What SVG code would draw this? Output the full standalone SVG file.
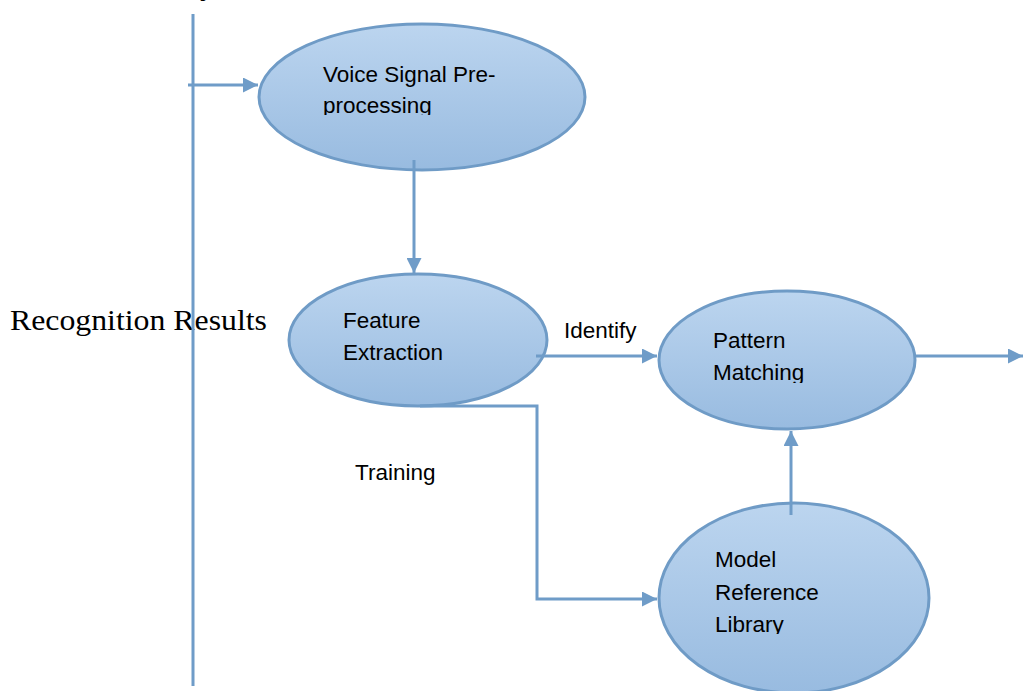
<svg xmlns="http://www.w3.org/2000/svg" width="1023" height="691" viewBox="0 0 1023 691">
  <defs>
    <linearGradient id="fillGrad" x1="0" y1="0" x2="0" y2="1">
      <stop offset="0" stop-color="#bcd5ef"/>
      <stop offset="1" stop-color="#98bbe0"/>
    </linearGradient>
    <marker id="arrow" viewBox="0 0 10 10" refX="10" refY="5" markerWidth="5" markerHeight="5" markerUnits="strokeWidth" orient="auto">
      <path d="M0,0 L10,5 L0,10 z" fill="#6f9cc8"/>
    </marker>
    <clipPath id="clip1"><rect x="300" y="50" width="250" height="65"/></clipPath>
    <clipPath id="clip3"><rect x="700" y="320" width="200" height="63"/></clipPath>
    <clipPath id="clip4"><rect x="700" y="530" width="200" height="104"/></clipPath>
  </defs>
  <style>
    .node { fill: url(#fillGrad); stroke: #6f9bc6; stroke-width: 3; }
    .lbl { font-family: "Liberation Sans", Arial, sans-serif; font-size: 22.5px; fill: #000; }
    .conn { fill: none; stroke: #6f9cc8; stroke-width: 3; }
    .serif { font-family: "Liberation Serif", "Times New Roman", serif; font-size: 30px; fill: #000; }
  </style>

  <text class="serif" x="200" y="-5">y</text>
  <text class="serif" x="10" y="330" textLength="257" lengthAdjust="spacingAndGlyphs">Recognition Results</text>

  <g id="node-preprocessing">
    <ellipse class="node" cx="422" cy="97" rx="163" ry="73"/>
    <g clip-path="url(#clip1)">
      <text class="lbl" x="323" y="82">Voice Signal Pre-</text>
      <text class="lbl" x="323" y="113">processing</text>
    </g>
  </g>

  <g id="node-feature">
    <ellipse class="node" cx="418" cy="340" rx="129" ry="66"/>
    <text class="lbl" x="343" y="328">Feature</text>
    <text class="lbl" x="343" y="360">Extraction</text>
  </g>

  <g id="node-pattern">
    <ellipse class="node" cx="787" cy="360" rx="128" ry="69"/>
    <g clip-path="url(#clip3)">
      <text class="lbl" x="713" y="348">Pattern</text>
      <text class="lbl" x="713" y="380">Matching</text>
    </g>
  </g>

  <g id="node-library">
    <ellipse class="node" cx="794" cy="598" rx="135" ry="95"/>
    <g clip-path="url(#clip4)">
      <text class="lbl" x="715" y="567">Model</text>
      <text class="lbl" x="715" y="600">Reference</text>
      <text class="lbl" x="715" y="632">Library</text>
    </g>
  </g>

  <g id="connectors">
    <line class="conn" x1="193" y1="14" x2="193" y2="686"/>
    <line class="conn" x1="188" y1="85" x2="258" y2="85" marker-end="url(#arrow)"/>
    <line class="conn" x1="414" y1="160" x2="414" y2="273" marker-end="url(#arrow)"/>
    <line class="conn" x1="536" y1="356" x2="657" y2="356" marker-end="url(#arrow)"/>
    <line class="conn" x1="916" y1="356" x2="1023" y2="356" marker-end="url(#arrow)"/>
    <line class="conn" x1="791" y1="515" x2="791" y2="431" marker-end="url(#arrow)"/>
    <polyline class="conn" points="420,406 537,406 537,599 657,599" marker-end="url(#arrow)"/>
    <text class="lbl" x="564" y="338">Identify</text>
    <text class="lbl" x="355" y="480">Training</text>
  </g>
</svg>
